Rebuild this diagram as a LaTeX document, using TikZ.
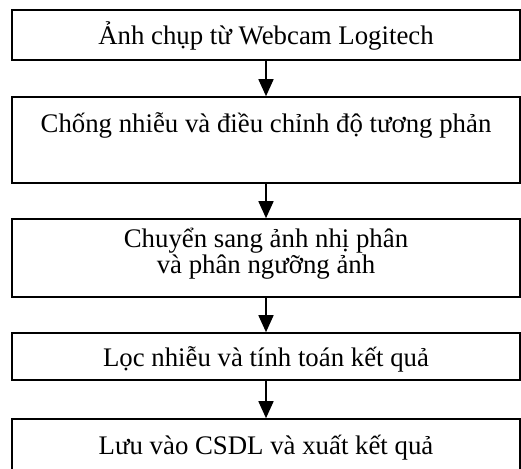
\documentclass[tikz,border=0pt]{standalone}
\usepackage{fontspec}
\setmainfont{Liberation Serif}
\usetikzlibrary{arrows.meta}
\tikzset{
  box/.style={draw=black, line width=1.6pt, rectangle, minimum width=508pt, inner sep=0pt, fill=white},
  txt/.style={anchor=base, inner sep=0pt, font=\fontsize{26.8}{27}\selectfont},
  conn/.style={line width=1.6pt, -{Triangle[width=15pt,length=17pt]}}
}
\begin{document}
\begin{tikzpicture}[x=1pt,y=1pt]
\useasboundingbox (0,0) rectangle (521,-468);
\clip (0,0) rectangle (521,-468);
\fill[white] (0,0) rectangle (521,-468);
\node[box, minimum height=50pt] (b1) at (266,-35) {};
\node[box, minimum height=86pt] (b2) at (266,-140) {};
\node[box, minimum height=78pt] (b3) at (266,-258) {};
\node[box, minimum height=47pt] (b4) at (266,-356.5) {};
\node[box, minimum height=60pt] (b5) at (266,-449) {};
\node[txt] (t1) at (266,-45) {Ảnh chụp từ Webcam Logitech};
\node[txt] (t2) at (266,-132) {Chống nhiễu và điều chỉnh độ tương phản};
\node[txt] (t3a) at (266,-247) {Chuyển sang ảnh nhị phân};
\node[txt] (t3b) at (266,-273) {và phân ngưỡng ảnh};
\node[txt] (t4) at (266,-366) {Lọc nhiễu và tính toán kết quả};
\node[txt] (t5) at (266,-454) {Lưu vào CSDL và xuất kết quả};
\draw[conn] (b1.south) -- (b2.north);
\draw[conn] (b2.south) -- (b3.north);
\draw[conn] (b3.south) -- (b4.north);
\draw[conn] (b4.south) -- (b5.north);
\end{tikzpicture}
\end{document}
